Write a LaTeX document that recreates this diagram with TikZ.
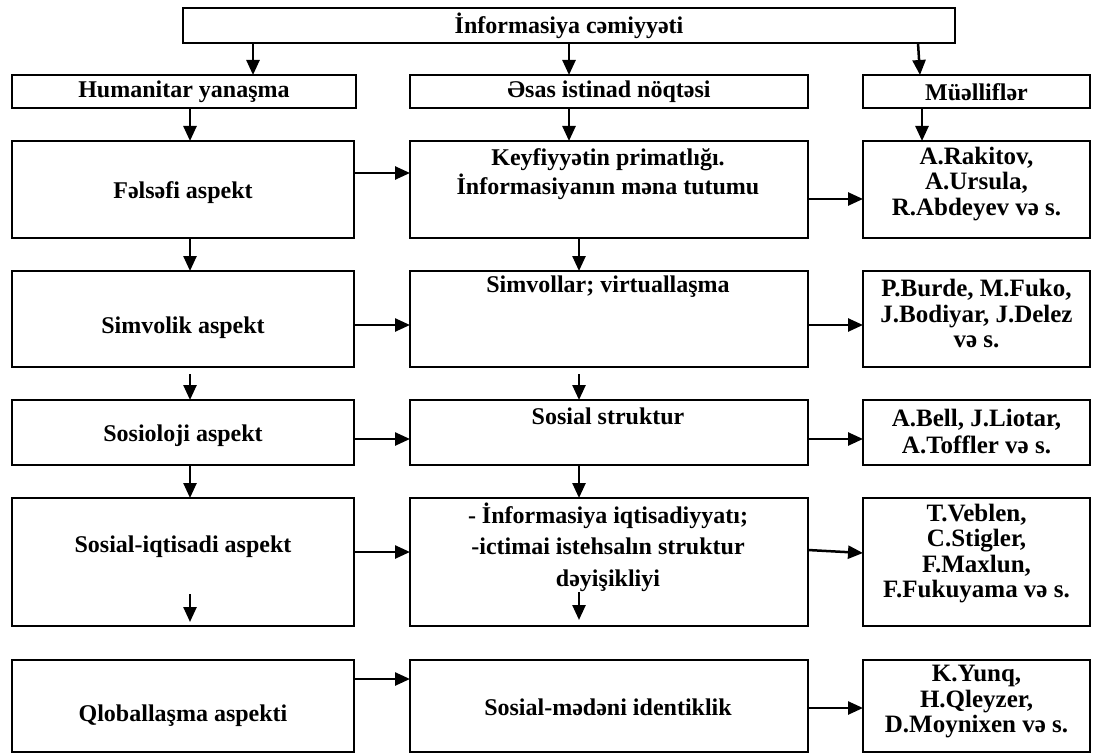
\documentclass[tikz,border=0pt]{standalone}
\usepackage{fontspec}
\setmainfont{Liberation Serif}
\usetikzlibrary{arrows.meta}
\begin{document}
\begin{tikzpicture}[x=1pt,y=-1pt,
  box/.style={draw,line width=2.6pt,inner sep=0pt,outer sep=0pt,rectangle},
  txt/.style={font=\fontsize{24}{25.5}\selectfont\bfseries,align=center,inner sep=0pt},
  rtxt/.style={font=\fontsize{25}{25.5}\selectfont\bfseries,align=center,inner sep=0pt},
  arr/.style={line width=2.5pt,-{Triangle[length=15pt,width=13pt]}}]
\useasboundingbox (0,0) rectangle (1094,754);
% boxes
\node[box,minimum width=772pt,minimum height=35pt] (top) at (569,25.5) {};
\node[box,minimum width=344pt,minimum height=33pt] (h1) at (184,91.5) {};
\node[box,minimum width=398pt,minimum height=33pt] (h2) at (609,91.5) {};
\node[box,minimum width=227pt,minimum height=33pt] (h3) at (976.5,91.5) {};
% rows
\node[box,minimum width=342pt,minimum height=97pt] (l1) at (183,189.5) {};
\node[box,minimum width=398pt,minimum height=97pt] (m1) at (609,189.5) {};
\node[box,minimum width=227pt,minimum height=97pt] (r1) at (976.5,189.5) {};
\node[box,minimum width=342pt,minimum height=96pt] (l2) at (183,319) {};
\node[box,minimum width=398pt,minimum height=96pt] (m2) at (609,319) {};
\node[box,minimum width=227pt,minimum height=96pt] (r2) at (976.5,319) {};
\node[box,minimum width=342pt,minimum height=65pt] (l3) at (183,432.5) {};
\node[box,minimum width=398pt,minimum height=65pt] (m3) at (609,432.5) {};
\node[box,minimum width=227pt,minimum height=65pt] (r3) at (976.5,432.5) {};
\node[box,minimum width=342pt,minimum height=128pt] (l4) at (183,562) {};
\node[box,minimum width=398pt,minimum height=128pt] (m4) at (609,562) {};
\node[box,minimum width=227pt,minimum height=128pt] (r4) at (976.5,562) {};
\node[box,minimum width=342pt,minimum height=92pt] (l5) at (183,706) {};
\node[box,minimum width=398pt,minimum height=92pt] (m5) at (609,706) {};
\node[box,minimum width=227pt,minimum height=92pt] (r5) at (976.5,706) {};
% texts
\node[txt] (ttop) at (569,25.5) {İnformasiya cəmiyyəti};
\node[txt] (th1) at (184,92) {Humanitar yanaşma};
\node[txt] (th2) at (609,92) {Əsas istinad nöqtəsi};
\node[txt] (th3) at (976.5,92) {Müəlliflər};
\node[txt] (tl1) at (183,193) {Fəlsəfi aspekt};
\node[txt] (tl2) at (183,328) {Simvolik aspekt};
\node[txt] (tl3) at (183,436) {Sosioloji aspekt};
\node[txt] (tl4) at (183,547) {Sosial-iqtisadi aspekt};
\node[txt] (tl5) at (183,716) {Qloballaşma aspekti};
\node[txt,font=\fontsize{24}{29}\selectfont\bfseries] (tm1) at (608,174) {Keyfiyyətin primatlığı.\\İnformasiyanın məna tutumu};
\node[txt] (tm2) at (608,287) {Simvollar; virtuallaşma};
\node[txt] (tm3) at (608,416) {Sosial struktur};
\node[txt,font=\fontsize{24}{31.5}\selectfont\bfseries] (tm4) at (608,547) {- İnformasiya iqtisadiyyatı;\\-ictimai istehsalın struktur\\dəyişikliyi};
\node[txt] (tm5) at (608,707) {Sosial-mədəni identiklik};
\node[rtxt] (tr1) at (976.5,184) {A.Rakitov,\\A.Ursula,\\R.Abdeyev və s.};
\node[rtxt] (tr2) at (976.5,314) {P.Burde, M.Fuko,\\J.Bodiyar, J.Delez\\və s.};
\node[rtxt,font=\fontsize{25}{27}\selectfont\bfseries] (tr3) at (976.5,431) {A.Bell, J.Liotar,\\A.Toffler və s.};
\node[rtxt] (tr4) at (976.5,553.5) {T.Veblen,\\C.Stigler,\\F.Maxlun,\\F.Fukuyama və s.};
\node[rtxt] (tr5) at (976.5,702) {K.Yunq,\\H.Qleyzer,\\D.Moynixen və s.};
% arrows from top
\draw[arr] ([xshift=-316pt]top.south) -- ([xshift=69pt]h1.north);
\draw[arr] (top.south) -- ([xshift=-40pt]h2.north);
\draw[arr] ([xshift=349pt]top.south) -- ([xshift=-56.5pt]h3.north);
% headers to rows
\draw[arr] ([xshift=6pt]h1.south) -- ([xshift=7pt]l1.north);
\draw[arr] ([xshift=-40pt]h2.south) -- ([xshift=-40pt]m1.north);
\draw[arr] ([xshift=-54.5pt]h3.south) -- ([xshift=-54.5pt]r1.north);
% left column down
\draw[arr] ([xshift=7pt]l1.south) -- ([xshift=7pt]l2.north);
\draw[arr] ([xshift=7pt,yshift=-7pt]l2.south) -- ([xshift=7pt]l3.north);
\draw[arr] ([xshift=7pt]l3.south) -- ([xshift=7pt]l4.north);
\draw[arr] ([xshift=7pt,yshift=32pt]l4.south) -- ([xshift=7pt,yshift=4pt]l4.south);
% middle column down
\draw[arr] ([xshift=-30pt]m1.south) -- ([xshift=-30pt]m2.north);
\draw[arr] ([xshift=-30pt,yshift=-7pt]m2.south) -- ([xshift=-30pt]m3.north);
\draw[arr] ([xshift=-30pt]m3.south) -- ([xshift=-30pt]m4.north);
\draw[arr] ([xshift=-30pt,yshift=34pt]m4.south) -- ([xshift=-30pt,yshift=6pt]m4.south);
% left to middle
\draw[arr] ([yshift=16.5pt]l1.east) -- ([yshift=16.5pt]m1.west);
\draw[arr] ([yshift=-6pt]l2.east) -- ([yshift=-6pt]m2.west);
\draw[arr] ([yshift=-6.5pt]l3.east) -- ([yshift=-6.5pt]m3.west);
\draw[arr] ([yshift=10pt]l4.east) -- ([yshift=10pt]m4.west);
\draw[arr] ([yshift=27pt]l5.east) -- ([yshift=27pt]m5.west);
% middle to right
\draw[arr] ([yshift=-9.5pt]m1.east) -- ([yshift=-9.5pt]r1.west);
\draw[arr] ([yshift=-6pt]m2.east) -- ([yshift=-6pt]r2.west);
\draw[arr] ([yshift=-6.5pt]m3.east) -- ([yshift=-6.5pt]r3.west);
\draw[arr] ([yshift=12pt]m4.east) -- ([yshift=9pt]r4.west);
\draw[arr] ([yshift=-2pt]m5.east) -- ([yshift=-2pt]r5.west);
\end{tikzpicture}
\end{document}
